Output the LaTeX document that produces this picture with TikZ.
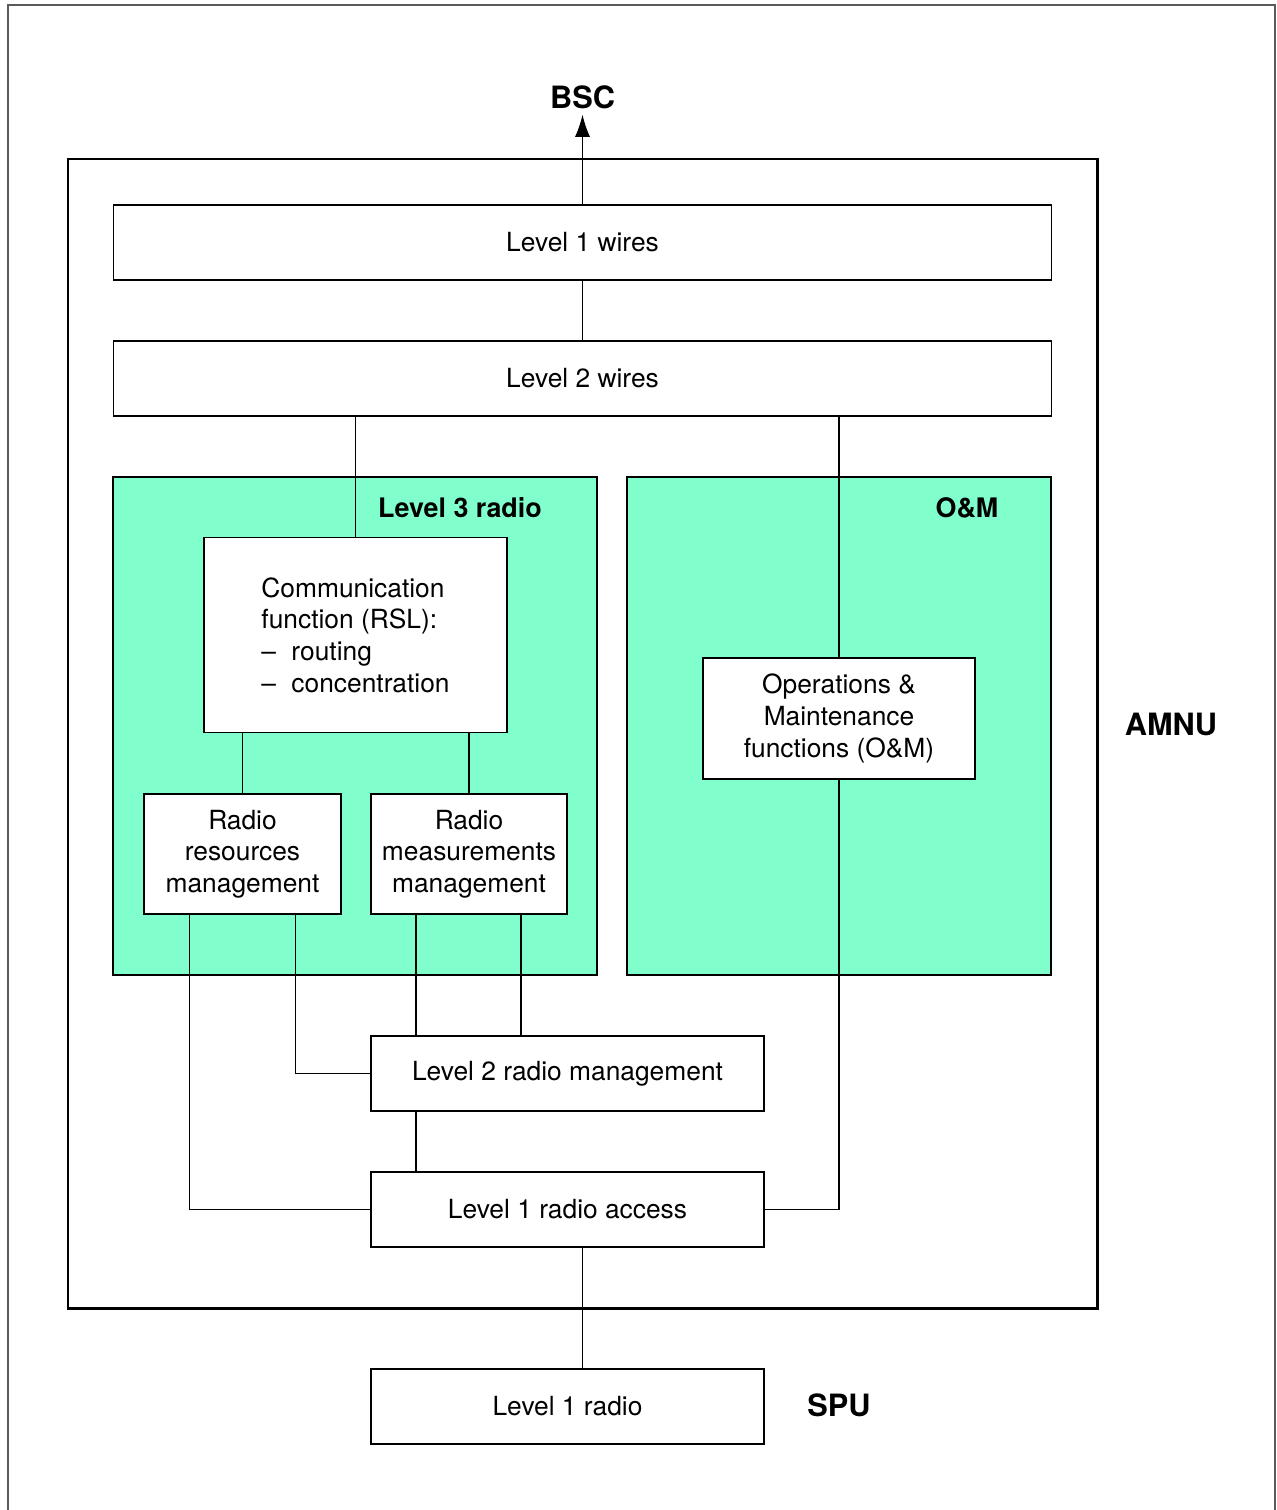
\documentclass[tikz,border=0pt]{standalone}
\usepackage{fontspec}
\setmainfont{TeX Gyre Heros}
\usetikzlibrary{positioning,calc,arrows.meta}
\definecolor{radioGreen}{RGB}{128,255,204}
\definecolor{frameGray}{RGB}{90,90,90}

\begin{document}
\begin{tikzpicture}[
    x=0.02cm, y=-0.02cm,
    blk/.style={draw, line width=1.1pt, fill=white, align=center, inner sep=0pt, font=\fontsize{15}{18}\selectfont},
    area/.style={draw, line width=1.1pt, fill=radioGreen, inner sep=0pt},
    wire/.style={line width=0.6pt},
    tag/.style={font=\fontsize{17.5}{20}\selectfont\bfseries},
    areatag/.style={font=\fontsize{15.3}{18}\selectfont\bfseries},
    arr/.style={-{Latex[length=0.44cm,width=0.3cm]}, line width=0.6pt},
]
\useasboundingbox (0,0) rectangle (1276,1510);

% Page frame
\draw[frameGray, line width=0.9pt] (8,1510) -- (8,5) -- (1275,5) -- (1275,1510);

% AMNU enclosure
\node[draw, line width=1.7pt, minimum width=1029*0.02cm, minimum height=1149*0.02cm, inner sep=0pt] (amnu) at (582.5,733.5) {};
\node[tag] (amnulbl) at (1171,724) {AMNU};

% Wire levels
\node[blk, minimum width=938*0.02cm, minimum height=75*0.02cm] (l1w) at (582.5,242.5) {Level 1 wires};
\node[blk, minimum width=938*0.02cm, minimum height=75*0.02cm] (l2w) at (582.5,378.5) {Level 2 wires};

% Green areas
\node[area, minimum width=484*0.02cm, minimum height=498*0.02cm] (l3r) at (355,726) {};
\node[area, minimum width=424*0.02cm, minimum height=498*0.02cm] (oma) at (839,726) {};
\node[areatag] (l3rlbl) at (460,508) {Level 3 radio};
\node[areatag] (omlbl) at (967,508) {O\&M};

% Level 3 radio content
\node[blk, align=left, minimum width=303*0.02cm, minimum height=195*0.02cm] (comm) at (355.5,635)
    {Communication\\function (RSL):\\\makebox[0.6cm][l]{--}routing\\\makebox[0.6cm][l]{--}concentration};
\node[blk, minimum width=197*0.02cm, minimum height=120*0.02cm] (rrm) at (242.5,854) {Radio\\resources\\management};
\node[blk, minimum width=196*0.02cm, minimum height=120*0.02cm] (rmm) at (469,854) {Radio\\measurements\\management};

% O&M content
\node[blk, minimum width=272*0.02cm, minimum height=121*0.02cm] (om) at (839,718.5) {Operations \&\\Maintenance\\functions (O\&M)};

% Radio levels
\node[blk, minimum width=393*0.02cm, minimum height=75*0.02cm] (l2m) at (567.5,1073.5) {Level 2 radio management};
\node[blk, minimum width=393*0.02cm, minimum height=75*0.02cm] (l1a) at (567.5,1209.5) {Level 1 radio access};
\node[blk, minimum width=393*0.02cm, minimum height=75*0.02cm] (l1r) at (567.5,1406.5) {Level 1 radio};
\node[tag] (spu) at (839,1405) {SPU};

% BSC on top
\node[tag] (bsc) at (582.5,97) {BSC};

% Connections
\draw[arr] (l1w.north) -- (bsc.south);
\draw[wire] (l1w.south) -- (l2w.north);
\draw[wire] (comm.north) -- (comm.north |- l2w.south);
\draw[wire] (om.north) -- (om.north |- l2w.south);
\draw[wire] (om.south) |- (l1a.east);
\draw[wire] (rrm.north) -- (rrm.north |- comm.south);
\draw[wire] (rmm.north) -- (rmm.north |- comm.south);
\draw[wire] ($(rrm.south)+(-53,0)$) |- (l1a.west);
\draw[wire] ($(rrm.south)+(53,0)$) |- (l2m.west);
\draw[wire] ($(rmm.south)+(-53,0)$) -- ($(l2m.north -| rmm.south)+(-53,0)$);
\draw[wire] ($(rmm.south)+(52,0)$) -- ($(l2m.north -| rmm.south)+(52,0)$);
\draw[wire] ($(l2m.south -| rmm.south)+(-53,0)$) -- ($(l1a.north -| rmm.south)+(-53,0)$);
\draw[wire] ($(l1a.south -| l1w.south)$) -- ($(l1r.north -| l1w.south)$);
\end{tikzpicture}
\end{document}
